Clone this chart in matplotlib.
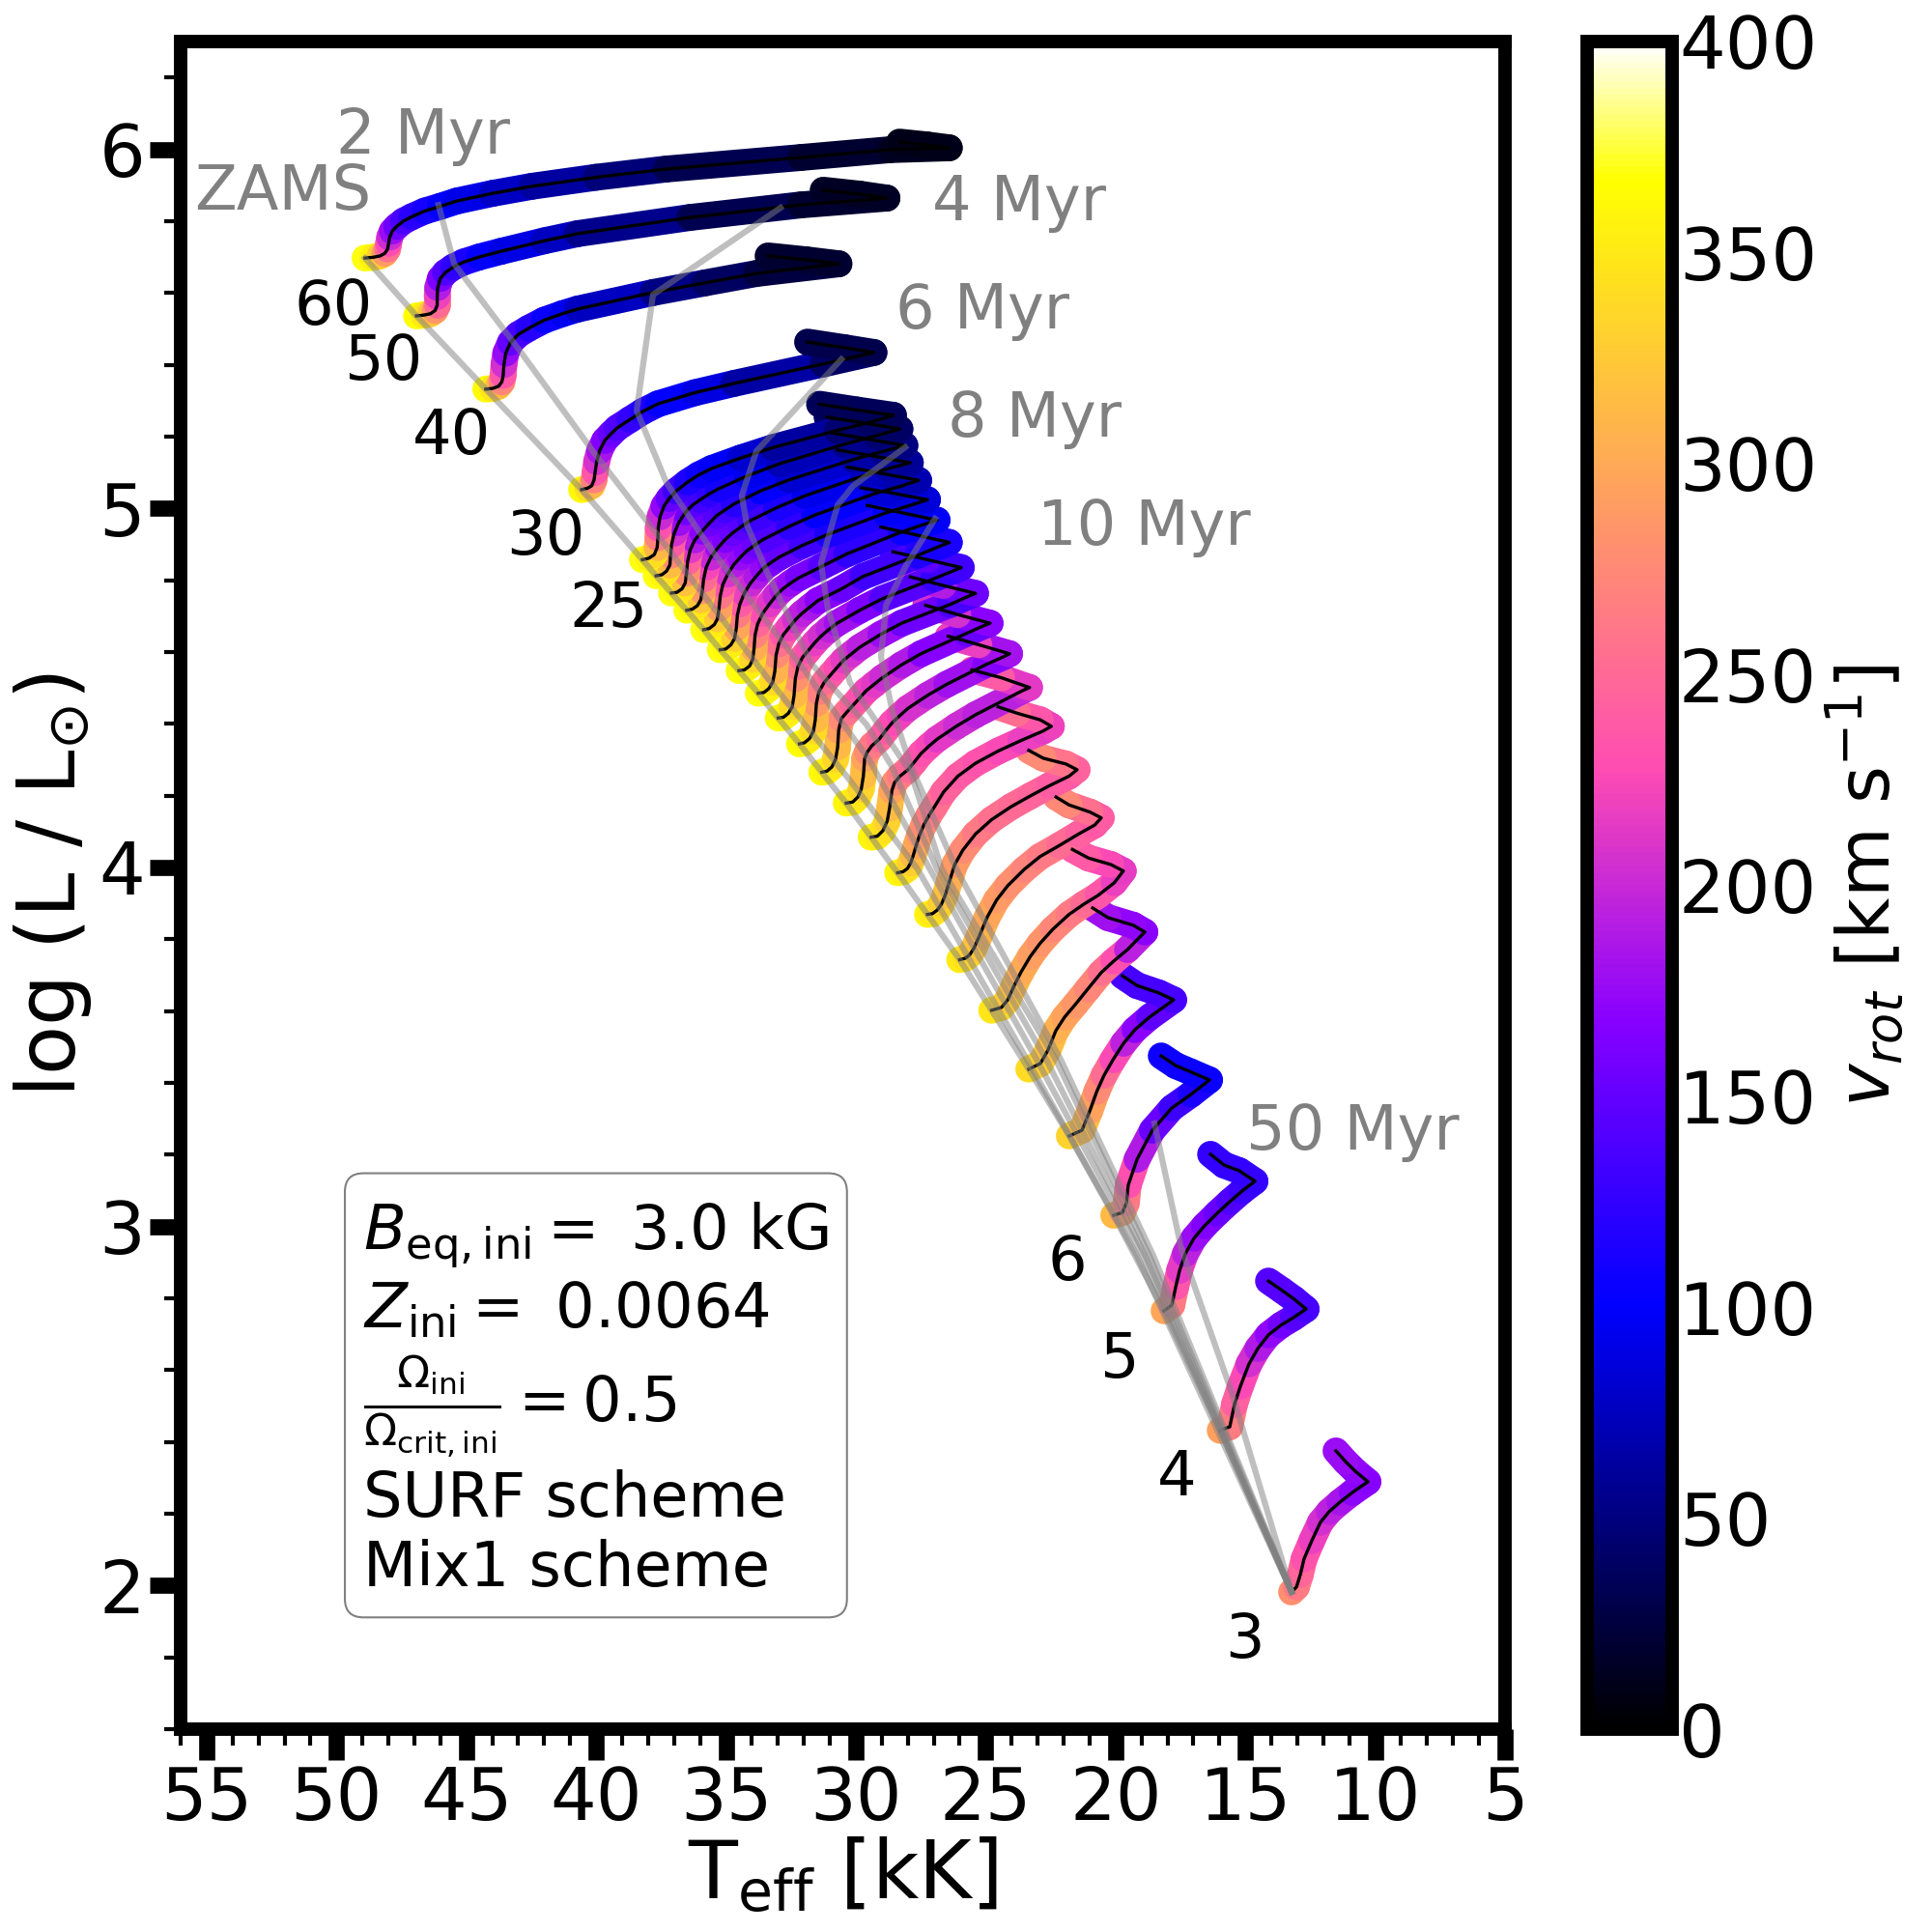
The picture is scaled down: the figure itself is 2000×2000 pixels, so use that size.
import matplotlib
matplotlib.use('Agg')
import matplotlib.pyplot as plt
import numpy as np
from matplotlib.collections import LineCollection
from matplotlib.colors import Normalize
from matplotlib.cm import ScalarMappable
from matplotlib.ticker import MultipleLocator

# evolutionary tracks: Teff [kK], log L, v_rot [km/s], one set per initial mass
teff_60 = [48.90, 48.60, 48.32, 48.14, 48.03, 47.99, 47.95, 47.85, 47.68, 47.42, 47.10, 46.60, 46.00, 45.36, 44.00, 42.46, 40.00, 37.29, 32.12, 28.66, 26.40, 27.25, 28.32]
logl_60 = [5.697, 5.699, 5.703, 5.710, 5.722, 5.738, 5.755, 5.772, 5.785, 5.800, 5.812, 5.828, 5.841, 5.856, 5.877, 5.897, 5.922, 5.945, 5.977, 5.999, 6.004, 6.012, 6.020]
vrot_60 = [375, 365, 345, 310, 270, 240, 215, 190, 165, 145, 128, 115, 105, 98, 85, 70, 55, 40, 25, 15, 10, 10, 10]

teff_50 = [46.92, 46.65, 46.38, 46.20, 46.12, 46.12, 46.10, 46.00, 45.80, 45.50, 45.10, 44.50, 43.65, 42.00, 40.71, 36.39, 32.12, 28.80, 29.85, 31.26]
logl_50 = [5.536, 5.538, 5.542, 5.551, 5.566, 5.590, 5.615, 5.640, 5.657, 5.672, 5.686, 5.700, 5.716, 5.745, 5.765, 5.810, 5.845, 5.864, 5.875, 5.886]
vrot_50 = [372, 360, 340, 305, 265, 235, 205, 175, 150, 130, 118, 108, 98, 82, 70, 40, 25, 15, 15, 15]

teff_40 = [44.25, 43.98, 43.76, 43.63, 43.58, 43.55, 43.48, 43.30, 43.00, 42.61, 42.00, 41.30, 40.71, 37.81, 35.80, 33.83, 30.65, 31.90, 33.38]
logl_40 = [5.332, 5.334, 5.340, 5.352, 5.370, 5.400, 5.432, 5.462, 5.484, 5.501, 5.524, 5.542, 5.555, 5.601, 5.628, 5.654, 5.681, 5.692, 5.703]
vrot_40 = [368, 358, 335, 295, 250, 220, 190, 160, 142, 128, 112, 100, 90, 60, 45, 30, 20, 20, 20]

teff_30 = [40.56, 40.33, 40.17, 40.08, 40.04, 39.98, 39.87, 39.67, 39.42, 39.19, 38.70, 38.20, 37.62, 36.20, 34.68, 31.26, 29.30, 30.41, 31.86]
logl_30 = [5.052, 5.056, 5.063, 5.079, 5.100, 5.130, 5.160, 5.189, 5.208, 5.224, 5.247, 5.270, 5.291, 5.322, 5.348, 5.402, 5.434, 5.447, 5.463]
vrot_30 = [368, 355, 330, 290, 250, 220, 195, 172, 158, 148, 132, 120, 110, 95, 80, 50, 30, 30, 30]

teff_25 = [38.22, 37.97, 37.76, 37.65, 37.62, 37.61, 37.54, 37.39, 37.19, 36.92, 36.48, 36.05, 35.55, 34.44, 33.20, 30.72, 29.48, 28.55, 29.97, 31.40]
logl_25 = [4.857, 4.861, 4.871, 4.891, 4.918, 4.945, 4.976, 5.006, 5.027, 5.048, 5.073, 5.093, 5.111, 5.140, 5.169, 5.217, 5.239, 5.259, 5.274, 5.290]
vrot_25 = [372, 366, 352, 330, 290, 250, 215, 185, 160, 140, 120, 110, 105, 90, 75, 50, 40, 35, 35, 35]

teff_24 = [37.69, 37.47, 37.29, 37.16, 37.13, 37.10, 36.99, 36.82, 36.55, 36.27, 35.99, 35.65, 35.30, 34.19, 32.95, 30.47, 29.23, 28.30, 29.72, 31.11]
logl_24 = [4.812, 4.815, 4.825, 4.842, 4.869, 4.898, 4.931, 4.960, 4.990, 5.010, 5.024, 5.040, 5.054, 5.090, 5.124, 5.178, 5.202, 5.221, 5.238, 5.254]
vrot_24 = [372, 366, 355, 335, 295, 255, 220, 190, 165, 150, 138, 128, 120, 100, 85, 60, 50, 40, 40, 40]

teff_23 = [37.10, 36.89, 36.69, 36.57, 36.52, 36.48, 36.38, 36.20, 35.92, 35.65, 35.37, 35.03, 34.69, 33.69, 32.58, 30.10, 28.98, 28.11, 29.48, 30.90]
logl_23 = [4.764, 4.766, 4.776, 4.792, 4.819, 4.851, 4.884, 4.912, 4.936, 4.958, 4.979, 4.996, 5.012, 5.048, 5.079, 5.136, 5.158, 5.175, 5.192, 5.210]
vrot_23 = [372, 366, 356, 338, 300, 262, 228, 200, 178, 160, 148, 138, 130, 110, 95, 70, 60, 50, 50, 50]

teff_22 = [36.51, 36.30, 36.10, 35.97, 35.91, 35.86, 35.76, 35.58, 35.30, 35.03, 34.75, 34.41, 34.06, 33.07, 31.96, 29.73, 28.73, 27.90, 29.29, 30.72]
logl_22 = [4.716, 4.719, 4.729, 4.745, 4.770, 4.803, 4.836, 4.864, 4.891, 4.913, 4.931, 4.949, 4.966, 5.001, 5.035, 5.090, 5.111, 5.127, 5.145, 5.163]
vrot_22 = [372, 366, 358, 340, 305, 268, 235, 210, 188, 170, 158, 148, 140, 120, 105, 80, 70, 60, 60, 60]

teff_21 = [35.86, 35.65, 35.45, 35.33, 35.27, 35.22, 35.12, 34.93, 34.69, 34.44, 34.19, 33.88, 33.57, 32.58, 31.59, 29.23, 28.30, 27.58, 28.98, 30.32]
logl_21 = [4.662, 4.665, 4.676, 4.692, 4.721, 4.756, 4.788, 4.817, 4.844, 4.864, 4.882, 4.898, 4.913, 4.949, 4.981, 5.042, 5.061, 5.078, 5.097, 5.115]
vrot_21 = [372, 367, 360, 345, 310, 275, 245, 220, 198, 182, 170, 158, 150, 130, 115, 90, 80, 70, 70, 70]

teff_20 = [35.22, 35.01, 34.81, 34.67, 34.60, 34.56, 34.46, 34.29, 34.06, 33.82, 33.57, 33.26, 32.95, 32.08, 31.09, 28.86, 27.87, 27.24, 28.55, 29.79]
logl_20 = [4.606, 4.608, 4.620, 4.637, 4.667, 4.703, 4.734, 4.764, 4.791, 4.812, 4.833, 4.849, 4.864, 4.896, 4.927, 4.987, 5.009, 5.024, 5.042, 5.057]
vrot_20 = [372, 367, 360, 347, 315, 280, 250, 228, 208, 192, 180, 168, 160, 140, 125, 100, 95, 85, 85, 85]

teff_19 = [34.50, 34.29, 34.09, 33.97, 33.92, 33.88, 33.78, 33.59, 33.32, 33.07, 32.82, 32.52, 32.21, 31.34, 30.35, 28.24, 27.43, 26.87, 28.24, 29.56]
logl_19 = [4.548, 4.550, 4.561, 4.579, 4.609, 4.647, 4.678, 4.707, 4.734, 4.757, 4.775, 4.791, 4.806, 4.837, 4.873, 4.934, 4.954, 4.967, 4.988, 5.008]
vrot_19 = [372, 368, 362, 350, 320, 285, 258, 238, 220, 205, 192, 180, 170, 150, 135, 110, 100, 95, 100, 105]

teff_18 = [33.76, 33.54, 33.35, 33.20, 33.12, 33.07, 32.97, 32.80, 32.58, 32.33, 32.08, 31.77, 31.46, 30.59, 29.73, 27.62, 26.75, 26.40, 27.74, 29.04]
logl_18 = [4.485, 4.487, 4.498, 4.516, 4.546, 4.591, 4.622, 4.647, 4.667, 4.689, 4.707, 4.725, 4.743, 4.774, 4.810, 4.869, 4.895, 4.905, 4.927, 4.948]
vrot_18 = [372, 368, 362, 352, 325, 290, 265, 245, 228, 212, 200, 190, 180, 160, 145, 120, 110, 110, 115, 125]

teff_17 = [32.99, 32.79, 32.60, 32.45, 32.38, 32.33, 32.23, 32.06, 31.83, 31.59, 31.34, 31.03, 30.72, 29.85, 28.98, 26.99, 26.25, 25.94, 27.24, 28.57]
logl_17 = [4.416, 4.418, 4.429, 4.447, 4.478, 4.525, 4.559, 4.584, 4.604, 4.625, 4.644, 4.663, 4.680, 4.716, 4.748, 4.804, 4.826, 4.835, 4.857, 4.879]
vrot_17 = [370, 366, 360, 350, 328, 295, 270, 250, 235, 222, 210, 200, 190, 170, 155, 130, 125, 125, 140, 155]

teff_16 = [32.17, 31.98, 31.78, 31.63, 31.56, 31.52, 31.42, 31.21, 30.96, 30.72, 30.47, 30.16, 29.85, 29.04, 28.24, 26.38, 25.70, 25.39, 26.63, 27.90]
logl_16 = [4.344, 4.347, 4.359, 4.380, 4.411, 4.456, 4.489, 4.516, 4.537, 4.557, 4.577, 4.595, 4.613, 4.649, 4.680, 4.732, 4.754, 4.763, 4.785, 4.809]
vrot_16 = [368, 364, 358, 348, 328, 300, 278, 260, 245, 232, 220, 210, 200, 185, 170, 140, 135, 135, 175, 205]

teff_15 = [31.31, 31.11, 30.92, 30.78, 30.70, 30.66, 30.56, 30.35, 30.10, 29.85, 29.60, 29.29, 28.98, 28.24, 27.49, 25.76, 25.08, 24.83, 26.07, 27.31]
logl_15 = [4.265, 4.268, 4.280, 4.301, 4.335, 4.382, 4.414, 4.432, 4.452, 4.472, 4.492, 4.510, 4.528, 4.564, 4.595, 4.651, 4.673, 4.680, 4.704, 4.730]
vrot_15 = [366, 362, 356, 345, 325, 302, 285, 265, 250, 238, 225, 218, 210, 195, 180, 155, 150, 150, 190, 220]

teff_14 = [30.37, 30.12, 29.92, 29.79, 29.71, 29.66, 29.56, 29.38, 29.10, 28.86, 28.61, 28.30, 27.99, 27.24, 26.50, 25.01, 24.33, 24.08, 25.26, 26.44]
logl_14 = [4.179, 4.182, 4.196, 4.218, 4.254, 4.303, 4.321, 4.339, 4.357, 4.380, 4.402, 4.423, 4.443, 4.479, 4.510, 4.564, 4.586, 4.595, 4.620, 4.644]
vrot_14 = [362, 358, 352, 342, 325, 305, 288, 270, 255, 243, 232, 223, 215, 200, 190, 170, 165, 165, 200, 235]

teff_13 = [29.41, 29.17, 28.96, 28.79, 28.70, 28.61, 28.51, 28.30, 27.99, 27.74, 27.49, 27.18, 26.87, 26.13, 25.39, 24.02, 23.59, 23.31, 24.39, 25.53]
logl_13 = [4.084, 4.087, 4.102, 4.129, 4.165, 4.214, 4.236, 4.254, 4.272, 4.294, 4.317, 4.338, 4.357, 4.393, 4.425, 4.476, 4.492, 4.501, 4.528, 4.550]
vrot_13 = [360, 356, 350, 340, 325, 305, 288, 272, 258, 245, 235, 228, 220, 208, 198, 190, 195, 200, 225, 250]

teff_12 = [28.39, 28.18, 28.01, 27.89, 27.79, 27.68, 27.54, 27.37, 27.18, 26.97, 26.62, 26.07, 25.39, 24.52, 23.65, 22.78, 22.47, 22.90, 23.77, 24.52]
logl_12 = [3.985, 3.988, 3.997, 4.012, 4.033, 4.060, 4.091, 4.120, 4.145, 4.169, 4.210, 4.254, 4.290, 4.324, 4.353, 4.380, 4.393, 4.411, 4.429, 4.447]
vrot_12 = [362, 358, 350, 338, 322, 305, 290, 280, 270, 260, 250, 240, 235, 228, 222, 215, 215, 225, 245, 262]

teff_11 = [27.24, 27.05, 26.85, 26.70, 26.56, 26.40, 26.19, 25.88, 25.39, 24.77, 24.02, 23.28, 22.53, 21.79, 21.48, 21.91, 22.78, 23.34]
logl_11 = [3.869, 3.871, 3.882, 3.898, 3.922, 3.960, 4.008, 4.048, 4.093, 4.133, 4.169, 4.199, 4.228, 4.254, 4.272, 4.288, 4.304, 4.326]
vrot_11 = [360, 354, 346, 336, 324, 312, 295, 282, 268, 260, 252, 248, 243, 238, 238, 250, 268, 285]

teff_10 = [26.00, 25.78, 25.61, 25.45, 25.26, 24.95, 24.58, 24.15, 23.52, 22.91, 22.16, 21.42, 20.80, 20.55, 20.98, 21.79, 22.29]
logl_10 = [3.743, 3.747, 3.757, 3.775, 3.806, 3.860, 3.909, 3.949, 3.994, 4.030, 4.061, 4.093, 4.118, 4.138, 4.154, 4.174, 4.196]
vrot_10 = [355, 348, 340, 328, 315, 302, 292, 285, 275, 268, 258, 248, 238, 235, 245, 265, 282]

teff_9 = [24.77, 24.39, 24.15, 23.90, 23.65, 23.28, 22.91, 22.41, 21.79, 21.23, 20.67, 20.05, 19.70, 20.18, 21.04, 21.66]
logl_9 = [3.602, 3.610, 3.631, 3.671, 3.707, 3.752, 3.788, 3.828, 3.869, 3.897, 3.922, 3.957, 3.990, 4.008, 4.026, 4.050]
vrot_9 = [352, 342, 330, 318, 305, 295, 288, 278, 268, 258, 245, 225, 212, 218, 232, 245]

teff_8 = [23.34, 22.89, 22.60, 22.30, 21.96, 21.55, 21.07, 20.55, 20.07, 19.54, 18.87, 19.32, 20.29, 20.88]
logl_8 = [3.438, 3.454, 3.491, 3.545, 3.583, 3.618, 3.661, 3.707, 3.739, 3.771, 3.820, 3.839, 3.860, 3.887]
vrot_8 = [345, 335, 322, 310, 300, 290, 280, 265, 245, 215, 170, 170, 175, 185]

teff_7 = [21.78, 21.29, 20.99, 20.72, 20.44, 20.10, 19.69, 19.25, 18.69, 17.76, 18.32, 19.17, 19.73]
logl_7 = [3.252, 3.268, 3.322, 3.376, 3.421, 3.464, 3.510, 3.548, 3.583, 3.631, 3.650, 3.671, 3.698]
vrot_7 = [340, 325, 305, 285, 265, 240, 210, 180, 160, 135, 135, 135, 135]

teff_6 = [20.07, 19.73, 19.58, 19.51, 19.17, 18.58, 17.83, 17.09, 16.38, 17.09, 17.68, 18.24]
logl_6 = [3.031, 3.039, 3.066, 3.115, 3.187, 3.268, 3.330, 3.368, 3.408, 3.430, 3.448, 3.475]
vrot_6 = [325, 300, 275, 250, 210, 165, 140, 120, 105, 105, 105, 110]

teff_5 = [18.13, 17.83, 17.68, 17.53, 17.31, 16.98, 16.57, 16.08, 15.60, 15.12, 14.63, 15.23, 15.82, 16.34]
logl_5 = [2.765, 2.781, 2.832, 2.878, 2.924, 2.967, 3.002, 3.037, 3.069, 3.099, 3.126, 3.155, 3.171, 3.201]
vrot_5 = [315, 280, 245, 225, 205, 185, 170, 160, 145, 135, 125, 125, 125, 125]

teff_4 = [15.97, 15.60, 15.42, 15.19, 14.86, 14.52, 14.11, 13.63, 13.15, 12.66, 13.11, 13.59, 14.11]
logl_4 = [2.432, 2.442, 2.504, 2.555, 2.617, 2.660, 2.698, 2.725, 2.746, 2.770, 2.797, 2.822, 2.848]
vrot_4 = [305, 280, 250, 235, 215, 195, 180, 165, 150, 135, 135, 140, 145]

teff_3 = [13.22, 13.03, 12.88, 12.74, 12.44, 12.11, 11.77, 11.36, 10.88, 10.28, 10.76, 11.14, 11.51]
logl_3 = [1.982, 1.996, 2.031, 2.074, 2.125, 2.176, 2.206, 2.232, 2.259, 2.289, 2.318, 2.345, 2.375]
vrot_3 = [290, 270, 255, 240, 225, 210, 200, 190, 178, 165, 170, 175, 180]

# lowest mass first, the heavier bands lie on top of the lighter ones
tracks = [
    (teff_3, logl_3, vrot_3), (teff_4, logl_4, vrot_4), (teff_5, logl_5, vrot_5),
    (teff_6, logl_6, vrot_6), (teff_7, logl_7, vrot_7), (teff_8, logl_8, vrot_8),
    (teff_9, logl_9, vrot_9), (teff_10, logl_10, vrot_10), (teff_11, logl_11, vrot_11),
    (teff_12, logl_12, vrot_12), (teff_13, logl_13, vrot_13), (teff_14, logl_14, vrot_14),
    (teff_15, logl_15, vrot_15), (teff_16, logl_16, vrot_16), (teff_17, logl_17, vrot_17),
    (teff_18, logl_18, vrot_18), (teff_19, logl_19, vrot_19), (teff_20, logl_20, vrot_20),
    (teff_21, logl_21, vrot_21), (teff_22, logl_22, vrot_22), (teff_23, logl_23, vrot_23),
    (teff_24, logl_24, vrot_24), (teff_25, logl_25, vrot_25), (teff_30, logl_30, vrot_30),
    (teff_40, logl_40, vrot_40), (teff_50, logl_50, vrot_50), (teff_60, logl_60, vrot_60),
]

# isochrones
iso_2_teff = [46.07, 45.47, 42.94, 40.04, 37.66, 35.17, 33.46, 30.22, 27.62, 23.41, 19.17, 13.22]
iso_2_logl = [5.845, 5.681, 5.439, 5.151, 4.928, 4.694, 4.533, 4.242, 3.995, 3.465, 2.918, 1.982]
iso_4_teff = [32.90, 37.81, 38.44, 37.29, 35.54, 32.08, 29.48, 27.25, 23.04, 18.95, 13.22]
iso_4_logl = [5.837, 5.595, 5.272, 5.071, 4.882, 4.559, 4.299, 4.008, 3.465, 2.918, 1.982]
iso_6_teff = [30.56, 33.83, 34.39, 34.20, 33.46, 31.71, 29.59, 28.62, 26.87, 22.67, 18.84, 13.22]
iso_6_logl = [5.415, 5.159, 5.036, 4.955, 4.828, 4.567, 4.398, 4.282, 3.995, 3.465, 2.918, 1.982]
iso_8_teff = [28.10, 30.11, 30.70, 31.34, 31.08, 30.22, 27.88, 26.69, 22.30, 18.69, 13.22]
iso_8_logl = [5.170, 5.062, 5.009, 4.847, 4.721, 4.514, 4.264, 3.995, 3.465, 2.918, 1.982]
iso_10_teff = [26.95, 28.10, 28.84, 29.03, 28.62, 27.88, 26.13, 22.11, 18.54, 13.22]
iso_10_logl = [4.971, 4.836, 4.729, 4.586, 4.444, 4.282, 3.995, 3.465, 2.918, 1.982]
iso_50_teff = [18.50, 17.46, 15.53, 13.22]
iso_50_logl = [3.287, 2.937, 2.539, 1.982]

age_labels = ['ZAMS', '2 Myr', '4 Myr', '6 Myr', '8 Myr', '10 Myr', '50 Myr']
age_label_teff = [55.47, 50.00, 27.05, 28.49, 26.47, 23.00, 14.96]
age_label_logl = [5.832, 5.988, 5.801, 5.500, 5.200, 4.898, 3.215]

mass_labels = ['60', '50', '40', '30', '25', '6', '5', '4', '3']
mass_label_teff = [51.64, 49.70, 47.06, 43.44, 41.02, 22.60, 20.62, 18.41, 15.78]
mass_label_logl = [5.511, 5.358, 5.150, 4.871, 4.671, 2.850, 2.580, 2.251, 1.799]

info_text = ("$B_{\\mathrm{eq,ini}} =$ 3.0 kG\n"
             "$Z_{\\mathrm{ini}} =$ 0.0064\n"
             "$\\frac{\\Omega_{\\mathrm{ini}}}{\\Omega_{\\mathrm{crit,ini}}} = 0.5$\n"
             "SURF scheme\n"
             "Mix1 scheme")

fig = plt.figure(figsize=(20, 20), dpi=100)
ax = fig.add_axes([0.0935, 0.105, 0.6855, 0.8735])
cax = fig.add_axes([0.8215, 0.105, 0.044, 0.8735])

norm = Normalize(0, 400)
cmap = plt.get_cmap('gnuplot2')

for i, (teff, logl, vrot) in enumerate(tracks):
    pts = np.column_stack([teff, logl])
    segs = np.stack([pts[:-1], pts[1:]], axis=1)
    vals = (np.array(vrot[:-1]) + np.array(vrot[1:])) / 2
    lc = LineCollection(segs, array=vals, cmap=cmap, norm=norm, linewidths=20,
                        capstyle='round', joinstyle='round', zorder=2 + i * 0.01)
    ax.add_collection(lc)

for teff, logl, vrot in tracks:
    ax.plot(teff, logl, color='k', lw=2.4, solid_joinstyle='round', zorder=3)

zams_teff = [t[0][0] for t in tracks]
zams_logl = [t[1][0] for t in tracks]
iso_lines = [(zams_teff, zams_logl), (iso_2_teff, iso_2_logl), (iso_4_teff, iso_4_logl),
             (iso_6_teff, iso_6_logl), (iso_8_teff, iso_8_logl), (iso_10_teff, iso_10_logl),
             (iso_50_teff, iso_50_logl)]
for teff, logl in iso_lines:
    ax.plot(teff, logl, color='grey', lw=4.5, alpha=0.5, zorder=4)

for lab, t, l in zip(age_labels, age_label_teff, age_label_logl):
    ax.text(t, l, lab, fontsize=46, color='grey', ha='left', va='baseline')
for lab, t, l in zip(mass_labels, mass_label_teff, mass_label_logl):
    ax.text(t, l, lab, fontsize=46, color='k', ha='left', va='baseline')

ax.text(0.138, 0.0772, info_text, transform=ax.transAxes, fontsize=46, ha='left', va='bottom',
        bbox=dict(boxstyle='round', facecolor='white', edgecolor='grey', linewidth=1.5), zorder=5)

ax.set_xlim(56, 5)
ax.set_ylim(1.6, 6.3)
ax.xaxis.set_major_locator(MultipleLocator(5))
ax.xaxis.set_minor_locator(MultipleLocator(1))
ax.yaxis.set_major_locator(MultipleLocator(1))
ax.yaxis.set_minor_locator(MultipleLocator(0.2))
ax.tick_params(which='major', length=23, width=12, labelsize=54)
ax.tick_params(which='minor', length=12, width=3)
for s in ax.spines.values():
    s.set_linewidth(10)
ax.set_xlabel(r'T$_{\mathrm{eff}}$ [kK]', fontsize=60, labelpad=0)
ax.set_ylabel(r'log (L / L$_{\odot}$)', fontsize=60)

cb = fig.colorbar(ScalarMappable(norm=norm, cmap=cmap), cax=cax, ticks=np.arange(0, 401, 50))
cb.outline.set_linewidth(10)
cb.ax.tick_params(length=0, pad=5, labelsize=54)
cb.set_label(r'$v_{rot}$ [km s$^{-1}$]', fontsize=54)

fig.savefig('out.png', dpi=100)
